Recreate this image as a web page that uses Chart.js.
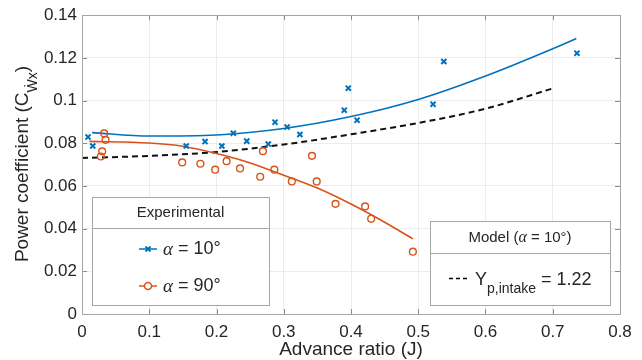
<!DOCTYPE html>
<html lang="en">
<head>
<meta charset="UTF-8">
<title>Power coefficient vs advance ratio</title>
<script src="https://cdn.jsdelivr.net/npm/chart.js"></script>
<style>
  html, body { margin: 0; padding: 0; background: #fff; }
  #wrap { width: 642px; height: 360px; }
</style>
</head>
<body>
<div id="wrap"><canvas id="powerChart" width="642" height="360"></canvas></div>
<script>
// experimental points, alpha = 10 deg
const exp10J  = [0.009, 0.016, 0.155, 0.183, 0.208, 0.225, 0.245, 0.277, 0.287, 0.305, 0.324, 0.390, 0.396, 0.409, 0.522, 0.538, 0.736];
const exp10Cp = [0.0829, 0.0787, 0.0787, 0.0808, 0.0787, 0.0847, 0.0810, 0.0796, 0.0899, 0.0876, 0.0841, 0.0955, 0.1058, 0.0908, 0.0983, 0.1183, 0.1222];

// experimental points, alpha = 90 deg
const exp90J  = [0.028, 0.030, 0.033, 0.035, 0.149, 0.176, 0.198, 0.215, 0.235, 0.265, 0.269, 0.286, 0.312, 0.342, 0.349, 0.377, 0.421, 0.430, 0.492];
const exp90Cp = [0.0738, 0.0762, 0.0846, 0.0816, 0.0710, 0.0704, 0.0676, 0.0716, 0.0682, 0.0643, 0.0763, 0.0676, 0.0621, 0.0741, 0.0621, 0.0516, 0.0504, 0.0446, 0.0292];

// fitted curves
const fit10J  = [0.015, 0.1, 0.2, 0.3, 0.4, 0.5, 0.6, 0.7, 0.735];
const fit10Cp = [0.0850, 0.0834, 0.0839, 0.0869, 0.0925, 0.1005, 0.1115, 0.1243, 0.1291];
const fit90J  = [0.011, 0.1, 0.15, 0.2, 0.25, 0.3, 0.35, 0.4, 0.45, 0.492];
const fit90Cp = [0.0809, 0.0801, 0.0786, 0.0752, 0.0708, 0.0650, 0.0590, 0.0515, 0.0430, 0.0352];

// model, Y_p,intake = 1.22
const modelJ  = [0, 0.1, 0.2, 0.3, 0.4, 0.5, 0.6, 0.7];
const modelCp = [0.0731, 0.0741, 0.0759, 0.0794, 0.0842, 0.0895, 0.0962, 0.1057];

const xTicks = [0, 0.1, 0.2, 0.3, 0.4, 0.5, 0.6, 0.7, 0.8];
const xTickLabels = ['0', '0.1', '0.2', '0.3', '0.4', '0.5', '0.6', '0.7', '0.8'];
const yTicks = [0, 0.02, 0.04, 0.06, 0.08, 0.1, 0.12, 0.14];
const yTickLabels = ['0', '0.02', '0.04', '0.06', '0.08', '0.1', '0.12', '0.14'];

const fontName = '"Liberation Sans", Arial, Helvetica, sans-serif';
const textColor = '#262626';
const blue = '#0072BD';
const orange = '#D95319';

const pts = (xs, ys) => xs.map((v, i) => ({ x: v, y: ys[i] }));

// frame, inner ticks, legends, y title
const extras = {
  id: 'extras',
  afterDraw(chart) {
    const { ctx, chartArea: a, scales: { x, y } } = chart;
    ctx.save();

    // inner tick marks on all four sides
    ctx.strokeStyle = '#8c8c8c';
    ctx.lineWidth = 1;
    ctx.beginPath();
    xTicks.forEach(v => {
      const px = Math.round(x.getPixelForValue(v)) + 0.5;
      ctx.moveTo(px, a.bottom); ctx.lineTo(px, a.bottom - 5);
      ctx.moveTo(px, a.top); ctx.lineTo(px, a.top + 5);
    });
    yTicks.forEach(v => {
      const py = Math.round(y.getPixelForValue(v)) + 0.5;
      ctx.moveTo(a.left, py); ctx.lineTo(a.left + 5, py);
      ctx.moveTo(a.right, py); ctx.lineTo(a.right - 5, py);
    });
    ctx.stroke();

    // box
    ctx.strokeStyle = '#a6a6a6';
    ctx.strokeRect(Math.round(a.left) + 0.5, Math.round(a.top) + 0.5,
                   Math.round(a.right - a.left), Math.round(a.bottom - a.top));

    // y axis title with subscript
    ctx.fillStyle = textColor;
    ctx.translate(22, 164);
    ctx.rotate(-Math.PI / 2);
    const main = 'Power coefficient (C';
    ctx.font = '19px ' + fontName;
    const w1 = ctx.measureText(main).width;
    const w3 = ctx.measureText(')').width;
    ctx.font = '14px ' + fontName;
    const w2 = ctx.measureText('Ẇx').width;
    let sx = -(w1 + w2 + w3) / 2;
    ctx.textBaseline = 'alphabetic';
    ctx.textAlign = 'left';
    ctx.font = '19px ' + fontName;
    ctx.fillText(main, sx, 6);
    ctx.font = '14px ' + fontName;
    ctx.fillText('Ẇx', sx + w1, 15);
    ctx.font = '19px ' + fontName;
    ctx.fillText(')', sx + w1 + w2, 6);
    ctx.setTransform(1, 0, 0, 1, 0, 0);

    // experimental legend
    drawBox(ctx, 92, 197, 177, 108, 228);
    ctx.font = '15px ' + fontName;
    ctx.textAlign = 'center';
    ctx.textBaseline = 'middle';
    ctx.fillStyle = textColor;
    ctx.fillText('Experimental', 180.5, 213);

    legendEntry(ctx, 249, blue, 'x', '10°');
    legendEntry(ctx, 286, orange, 'o', '90°');

    // model legend
    drawBox(ctx, 430, 221, 180, 84, 253);
    ctx.fillStyle = textColor;
    ctx.textAlign = 'left';
    ctx.textBaseline = 'middle';
    const parts = [['Model (', '15px ' + fontName], ['α', 'italic 16px "Liberation Serif", serif'], [' = 10°)', '15px ' + fontName]];
    let tw = 0;
    parts.forEach(p => { ctx.font = p[1]; tw += ctx.measureText(p[0]).width; });
    let tx = 520 - tw / 2;
    parts.forEach(p => { ctx.font = p[1]; ctx.fillText(p[0], tx, 238); tx += ctx.measureText(p[0]).width; });

    ctx.strokeStyle = '#000';
    ctx.lineWidth = 1.3;
    ctx.setLineDash([4, 3]);
    ctx.beginPath();
    ctx.moveTo(449, 278.5); ctx.lineTo(467, 278.5);
    ctx.stroke();
    ctx.setLineDash([]);

    ctx.textBaseline = 'alphabetic';
    ctx.font = '18px ' + fontName;
    ctx.fillText('Y', 475, 285);
    let ex = 475 + ctx.measureText('Y').width;
    ctx.font = '14px ' + fontName;
    ctx.fillText('p,intake', ex, 293);
    ex += ctx.measureText('p,intake').width;
    ctx.font = '18px ' + fontName;
    ctx.fillText(' = 1.22', ex, 285);

    ctx.restore();
  }
};

function drawBox(ctx, x0, y0, w, h, divY) {
  ctx.fillStyle = '#fff';
  ctx.fillRect(x0, y0, w, h);
  ctx.strokeStyle = '#a6a6a6';
  ctx.lineWidth = 1;
  ctx.strokeRect(x0 + 0.5, y0 + 0.5, w, h);
  ctx.beginPath();
  ctx.moveTo(x0, divY + 0.5); ctx.lineTo(x0 + w, divY + 0.5);
  ctx.stroke();
}

function legendEntry(ctx, yc, color, marker, label) {
  ctx.strokeStyle = color;
  ctx.lineWidth = 1.5;
  ctx.beginPath();
  ctx.moveTo(139, yc); ctx.lineTo(157, yc);
  ctx.stroke();
  ctx.beginPath();
  if (marker === 'x') {
    ctx.lineWidth = 1.8;
    ctx.moveTo(145.5, yc - 2.5); ctx.lineTo(150.5, yc + 2.5);
    ctx.moveTo(145.5, yc + 2.5); ctx.lineTo(150.5, yc - 2.5);
    ctx.stroke();
  } else {
    ctx.fillStyle = '#fff';
    ctx.arc(148, yc, 3.5, 0, Math.PI * 2);
    ctx.fill();
    ctx.stroke();
  }
  ctx.fillStyle = textColor;
  ctx.textAlign = 'left';
  ctx.textBaseline = 'middle';
  ctx.font = 'italic 19px "Liberation Serif", serif';
  ctx.fillText('α', 163, yc + 1);
  const aw = ctx.measureText('α').width;
  ctx.font = '18px ' + fontName;
  ctx.fillText(' = ' + label, 163 + aw, yc);
}

new Chart(document.getElementById('powerChart'), {
  type: 'scatter',
  data: {
    datasets: [
      { label: 'model', data: pts(modelJ, modelCp), showLine: true, borderColor: '#111', borderWidth: 2,
        borderDash: [6, 4], pointRadius: 0, cubicInterpolationMode: 'monotone', order: 5 },
      { label: 'fit 10', data: pts(fit10J, fit10Cp), showLine: true, borderColor: blue, borderWidth: 1.6,
        pointRadius: 0, cubicInterpolationMode: 'monotone', order: 4 },
      { label: 'fit 90', data: pts(fit90J, fit90Cp), showLine: true, borderColor: orange, borderWidth: 1.6,
        pointRadius: 0, cubicInterpolationMode: 'monotone', order: 3 },
      { label: 'α = 10°', data: pts(exp10J, exp10Cp), pointStyle: 'crossRot', pointRadius: 3.6,
        borderColor: blue, backgroundColor: blue, pointBorderWidth: 2, order: 2 },
      { label: 'α = 90°', data: pts(exp90J, exp90Cp), pointStyle: 'circle', pointRadius: 3.4,
        borderColor: orange, backgroundColor: 'rgba(0,0,0,0)', pointBorderWidth: 1.4, order: 1 }
    ]
  },
  options: {
    responsive: false,
    animation: false,
    layout: { padding: { left: 0, right: 22, top: 15, bottom: 0 } },
    plugins: { legend: { display: false }, tooltip: { enabled: false } },
    scales: {
      x: {
        type: 'linear', min: 0, max: 0.8,
        afterBuildTicks: s => { s.ticks = xTicks.map(v => ({ value: v })); },
        afterFit: s => { s.height = 46; },
        grid: { color: '#ececec', drawTicks: false },
        border: { display: false },
        ticks: { color: textColor, font: { family: fontName, size: 17 }, padding: 8, maxRotation: 0,
                 callback: (v, i) => xTickLabels[i] },
        title: { display: true, text: 'Advance ratio (J)', color: textColor,
                 font: { family: fontName, size: 19 }, padding: { top: 0, bottom: -1 } }
      },
      y: {
        type: 'linear', min: 0, max: 0.14,
        afterBuildTicks: s => { s.ticks = yTicks.map(v => ({ value: v })); },
        afterFit: s => { s.width = 82; },
        grid: { color: '#ececec', drawTicks: false },
        border: { display: false },
        ticks: { color: textColor, font: { family: fontName, size: 17 }, padding: 5,
                 callback: (v, i) => yTickLabels[i] }
      }
    }
  },
  plugins: [extras]
});
</script>
</body>
</html>
